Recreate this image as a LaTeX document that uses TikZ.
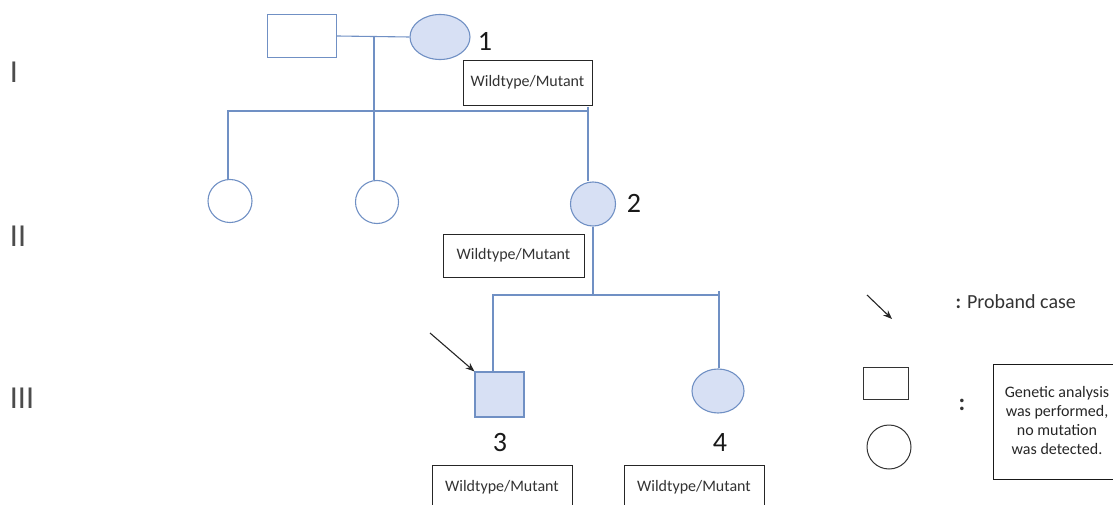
\documentclass[tikz,border=0pt]{standalone}
\usepackage{fontspec}
\setmainfont{Carlito}
\usetikzlibrary{arrows.meta,shapes.geometric}
\definecolor{pline}{HTML}{7090C4}
\definecolor{pfill}{HTML}{D7E0F4}
\tikzset{
  ped/.style={draw=pline, line width=1.1pt},
  male/.style={ped, rectangle, minimum width=#1, inner sep=0pt},
  fem/.style={ped, ellipse, inner sep=0pt},
  wtext/.style={font=\fontsize{16}{18}\selectfont, text=black!80},
  gbox/.style={draw=black!85, line width=0.9pt, inner sep=0pt, wtext},
  num/.style={font=\fontsize{28}{30}\selectfont, text=black!90},
  gen/.style={font=\fontsize{32}{34}\selectfont, text=black!70},
  conn/.style={draw=pline, line width=1.1pt},
  parrow/.style={draw=black!85, line width=1.1pt, -{Stealth[length=9pt,width=7pt]}},
}
\begin{document}
\begin{tikzpicture}[x=1pt,y=-1pt]
\useasboundingbox (0,0) rectangle (1113,505);
\clip (0,0) rectangle (1113,505);
% generation labels
\node[gen] (gI) at (14,72) {I};
\node[gen] (gII) at (18,236) {II};
\node[gen] (gIII) at (22,398) {III};
% generation I
\node[male=69pt, minimum height=43pt] (f1) at (302,36) {};
\node[fem, fill=pfill, minimum width=60pt, minimum height=45pt] (m1) at (440,37) {};
\node[num] (n1) at (485,41) {1};
\node[gbox, minimum width=129pt, minimum height=45pt] (b1) at (527.5,82.5) {Wildtype/Mutant};
\coordinate (mI) at (374,37);
\coordinate (sI) at (374,111);
\draw[conn] (f1.east) -- (m1.west);
\draw[conn] (mI) -- (sI);
% generation II
\node[fem, minimum width=44pt, minimum height=43pt] (c1) at (230,201) {};
\node[fem, minimum width=43pt, minimum height=43pt] (c2) at (377,202) {};
\node[fem, fill=pfill, minimum width=45pt, minimum height=44pt] (c3) at (593,204) {};
\node[num] (n2) at (634,203) {2};
\node[gbox, minimum width=141pt, minimum height=43pt] (b2) at (513.5,255.5) {Wildtype/Mutant};
\coordinate (sIIl) at (228,111);
\coordinate (sIIr) at (588,111);
\coordinate (sIIt) at (588,107);
\draw[conn] (sIIl |- c1.north) -- (sIIl) -- (sIIr);
\draw[conn] (sIIt) -- (sIIt |- c3.north);
\draw[conn] (sI) -- (sI |- c2.north);
% generation III
\node[male=49pt, fill=pfill, minimum height=45pt] (p3) at (499.5,394.5) {};
\node[fem, fill=pfill, minimum width=52pt, minimum height=44pt] (c4) at (718,391) {};
\node[num] (n3) at (500,443) {3};
\node[num] (n4) at (720,443) {4};
\node[gbox, minimum width=140pt, minimum height=60pt] (b3) at (502,495) {};
\node[gbox, minimum width=140pt, minimum height=60pt] (b4) at (694,495) {};
\node[wtext] (t3) at (502,487) {Wildtype/Mutant};
\node[wtext] (t4) at (694,487) {Wildtype/Mutant};
\coordinate (sIIIl) at (493,295);
\coordinate (sIIIm) at (593,295);
\coordinate (sIIIr) at (719,295);
\coordinate (sIIIt) at (719,291);
\draw[conn] (c3.south) -- (sIIIm);
\draw[conn] (sIIIl |- p3.north) -- (sIIIl) -- (sIIIr);
\draw[conn] (sIIIt) -- (sIIIt |- c4.north);
\coordinate (a0) at (430,333);
\draw[parrow] (a0) -- (p3.north west);
% legend
\coordinate (la0) at (867,295);
\coordinate (la1) at (892,319);
\draw[parrow] (la0) -- (la1);
\node[anchor=west, font=\fontsize{20}{22}\selectfont, text=black!80] (lp) at (952,302) {\textbf{:} Proband case};
\node[draw=black!80, line width=1pt, minimum width=45pt, minimum height=32pt, inner sep=0pt] (lr) at (885.5,383) {};
\node[draw=black!80, line width=1pt, circle, minimum size=44pt, inner sep=0pt] (lc) at (889,447) {};
\node[font=\fontsize{24}{26}\selectfont\bfseries, text=black!80] (lcol) at (962,405) {:};
\node[draw=black!90, line width=0.9pt, minimum width=140pt, minimum height=115pt, inner sep=0pt] (lb) at (1063,421.5) {};
\node[font=\fontsize{16}{19}\selectfont, text=black!85, align=center] (lt) at (1057,421) {Genetic analysis\\was performed,\\no mutation\\was detected.};
\end{tikzpicture}
\end{document}
